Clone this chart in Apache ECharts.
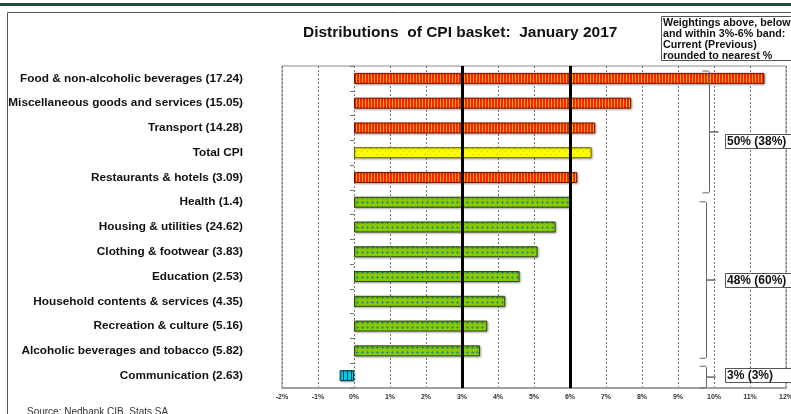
<!DOCTYPE html>
<html>
<head>
<meta charset="utf-8">
<script src="https://cdn.jsdelivr.net/npm/echarts@6/dist/echarts.min.js"></script>
<style>
html,body{margin:0;padding:0;background:#fff;}
#c{width:791px;height:414px;}
</style>
</head>
<body>
<div id="c"></div>
<script>
const categories = [
  'Food & non-alcoholic beverages (17.24)',
  'Miscellaneous goods and services (15.05)',
  'Transport (14.28)',
  'Total CPI',
  'Restaurants & hotels (3.09)',
  'Health (1.4)',
  'Housing & utilities (24.62)',
  'Clothing & footwear (3.83)',
  'Education (2.53)',
  'Household contents & services (4.35)',
  'Recreation & culture (5.16)',
  'Alcoholic beverages and tobacco (5.82)',
  'Communication (2.63)'
];
const values = [11.4, 7.7, 6.7, 6.6, 6.2, 6.0, 5.6, 5.1, 4.6, 4.2, 3.7, 3.5, -0.4];
const groups = ['above','above','above','total','above','within','within','within','within','within','within','within','below'];
const bandLines = [3, 6];
const xTicks = [-2, -1, 0, 1, 2, 3, 4, 5, 6, 7, 8, 9, 10, 11, 12];
const bracketRanges = [[0, 4], [5, 11], [12, 12]];
const bracketLabels = ['50% (38%)', '48% (60%)', '3% (3%)'];
const titleText = 'Distributions  of CPI basket:  January 2017';
const noteLines = ['Weightings above, below', 'and within 3%-6% band:', 'Current (Previous)', 'rounded to nearest %'];
const sourceText = 'Source: Nedbank CIB, Stats SA';

const FONT = '"Liberation Sans", Arial, sans-serif';

function makePattern(w, h, draw) {
  const c = document.createElement('canvas');
  c.width = w; c.height = h;
  const ctx = c.getContext('2d');
  draw(ctx);
  return { image: c, repeat: 'repeat' };
}
const patterns = {
  above: makePattern(3, 2, ctx => {
    ctx.fillStyle = '#FF2200'; ctx.fillRect(0, 0, 3, 2);
    ctx.fillStyle = '#FFB000'; ctx.fillRect(2, 0, 1, 2);
  }),
  total: makePattern(6, 6, ctx => {
    ctx.fillStyle = '#FFFF00'; ctx.fillRect(0, 0, 6, 6);
    ctx.fillStyle = '#C8C800'; ctx.fillRect(1, 1, 1, 1); ctx.fillRect(4, 4, 1, 1);
  }),
  within: makePattern(5, 5, ctx => {
    ctx.fillStyle = '#8CCB00'; ctx.fillRect(0, 0, 5, 5);
    ctx.fillStyle = '#2E9A70';
    ctx.fillRect(2, 1, 1, 3); ctx.fillRect(1, 2, 3, 1);
  }),
  below: makePattern(4, 2, ctx => {
    ctx.fillStyle = '#00CCEE'; ctx.fillRect(0, 0, 4, 2);
    ctx.fillStyle = '#114455'; ctx.fillRect(3, 0, 1, 2);
  })
};
const borderColors = { above: '#7a1000', total: '#666600', within: '#2a4a10', below: '#113344' };

const chart = echarts.init(document.getElementById('c'), null, { renderer: 'canvas' });

const option = {
  animation: false,
  backgroundColor: '#fff',
  textStyle: { fontFamily: FONT },
  grid: {
    left: 282, right: 5, top: 66, bottom: 26,
    outerBoundsMode: 'none', containLabel: false,
    show: true, borderColor: '#8a8a8a', borderWidth: 1, backgroundColor: 'transparent'
  },
  xAxis: {
    type: 'value', min: xTicks[0], max: xTicks[xTicks.length - 1], interval: 1,
    axisLine: { show: true, lineStyle: { color: '#a0a0a0', width: 2 } },
    axisTick: { show: false },
    axisLabel: { formatter: v => v + '%', fontSize: 7, fontWeight: 'bold', color: '#333', margin: 6, fontFamily: FONT },
    splitLine: { show: true, lineStyle: { color: '#777', type: [2, 2], width: 1 } }
  },
  yAxis: [
    {
      type: 'category', data: categories, inverse: true, position: 'left',
      axisLine: { show: false, onZero: false },
      axisTick: { show: false },
      axisLabel: { fontSize: 11.8, fontWeight: 'bold', color: '#111', margin: 39, fontFamily: FONT },
      splitLine: { show: false }
    },
    {
      type: 'category', data: categories, inverse: true, position: 'left',
      axisLine: { show: true, onZero: true, lineStyle: { color: 'rgba(0,0,0,0)' } },
      axisTick: { show: true, length: 4, lineStyle: { color: '#777' } },
      axisLabel: { show: false },
      splitLine: { show: false }
    }
  ],
  series: [{
    type: 'bar',
    yAxisIndex: 0,
    barWidth: 11,
    data: values.map((v, i) => ({
      value: v,
      itemStyle: {
        color: patterns[groups[i]],
        borderColor: borderColors[groups[i]],
        borderWidth: 1,
        shadowColor: 'rgba(0,0,0,0.3)', shadowBlur: 2, shadowOffsetX: 1, shadowOffsetY: 1
      }
    })),
    markLine: {
      silent: true,
      symbol: 'none',
      label: { show: false },
      lineStyle: { color: '#000', width: 3, type: 'solid' },
      data: bandLines.map(b => ({ xAxis: b }))
    }
  }]
};
chart.setOption(option);

// Annotations computed through the chart's own scales
const px = (x, y) => chart.convertToPixel({ gridIndex: 0 }, [x, y]);
const c0 = px(0, 0), c1 = px(0, 1);
const band = c1[1] - c0[1];
const bracketXs = [px(9.85, 0)[0], px(9.78, 0)[0], px(9.78, 0)[0]];
const labelX = px(10.3, 0)[0];
const topInset = [5, 12, 3];
const botInset = [-3, 5, 0];
const labelDy = [9, 0, -2];

const elements = [];
elements.push({ type: 'rect', shape: { x: 0, y: 3, width: 791, height: 3 }, style: { fill: '#1E4D3B' }, z: 1 });
elements.push({ type: 'rect', shape: { x: 7.5, y: 12.5, width: 800, height: 420 }, style: { fill: 'none', stroke: '#555', lineWidth: 1 }, z: 1 });
elements.push({ type: 'text', x: 303, y: 33, style: { text: titleText, font: 'bold 15.5px ' + FONT, fill: '#111', textVerticalAlign: 'middle' }, z: 5 });
elements.push({ type: 'rect', shape: { x: 661.5, y: 16.5, width: 140, height: 44 }, style: { fill: '#fff', stroke: '#555', lineWidth: 1 }, z: 5 });
noteLines.forEach((t, i) => {
  elements.push({ type: 'text', x: 663, y: 23 + i * 11, style: { text: t, font: 'bold 10.7px ' + FONT, fill: '#111', textVerticalAlign: 'middle' }, z: 6 });
});
bracketRanges.forEach((r, k) => {
  const yTop = c0[1] + (r[0] - 0.5) * band + topInset[k];
  const yBot = c0[1] + (r[1] + 0.5) * band - botInset[k];
  const yMid = (yTop + yBot) / 2;
  const x = Math.round(bracketXs[k]) + 0.5;
  elements.push({
    type: 'polyline',
    shape: { points: [[x - 7, yTop], [x - 1, yTop], [x, yTop + 1], [x, yMid], [x + 9, yMid], [x, yMid], [x, yBot - 1], [x - 1, yBot], [x - 7, yBot]] },
    style: { stroke: '#666', lineWidth: 1, fill: null },
    z: 5
  });
  const ly = yMid + labelDy[k];
  elements.push({ type: 'rect', shape: { x: Math.round(labelX) + 0.5, y: Math.round(ly - 7) + 0.5, width: 80, height: 14 }, style: { fill: '#fff', stroke: '#555', lineWidth: 1 }, z: 5 });
  elements.push({ type: 'text', x: Math.round(labelX) + 2, y: ly + 0.5, style: { text: bracketLabels[k], font: 'bold 12px ' + FONT, fill: '#111', textVerticalAlign: 'middle' }, z: 6 });
});
elements.push({ type: 'text', x: 27, y: 407, style: { text: sourceText, font: '10px ' + FONT, fill: '#333' }, z: 5 });

chart.setOption({ graphic: { elements: elements } });
</script>
</body>
</html>
